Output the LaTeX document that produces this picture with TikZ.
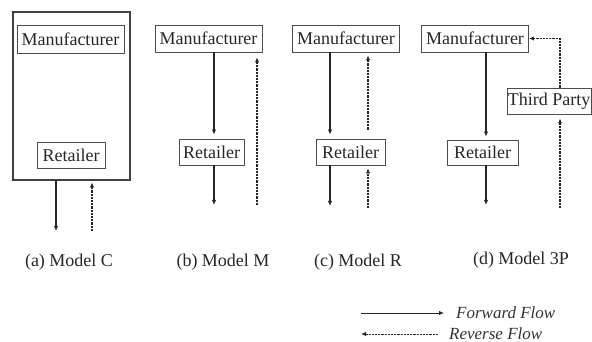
\documentclass[tikz,border=0pt]{standalone}
\usepackage{fontspec}
\setmainfont{Liberation Serif}
\usetikzlibrary{arrows.meta}
\tikzset{
  box/.style={draw=black!70, line width=0.9pt, rectangle, inner sep=0pt,
    font=\fontsize{18}{20}\selectfont, text=black!85},
  outerbox/.style={draw=black!75, line width=2.5pt, rectangle, inner sep=0pt},
  fwd/.style={draw=black!85, line width=1.3pt, -{Latex[length=5pt,width=4.5pt]}},
  rev/.style={draw=black!85, line width=1.4pt, dash pattern=on 2.2pt off 1pt,
    -{Latex[length=5pt,width=4.5pt]}},
  captext/.style={font=\fontsize{18}{20}\selectfont, text=black!85},
  legendtext/.style={font=\fontsize{17}{20}\selectfont\itshape, text=black!80, anchor=west, inner sep=0pt}
}
\begin{document}
\begin{tikzpicture}[x=1pt,y=-1pt]
\useasboundingbox (0,0) rectangle (592,342);
% ---------- (a) Model C
\node[outerbox, minimum width=117pt, minimum height=168pt] (aC) at (71.5,96) {};
\node[box, minimum width=107pt, minimum height=28pt] (aM) at (70.5,39) {Manufacturer};
\node[box, minimum width=68pt, minimum height=26pt] (aR) at (71,155) {Retailer};
\coordinate (aF) at (56,231);
\coordinate (aB) at (92,231);
\draw[fwd] (aC.south -| aF) -- (aF);
\draw[rev, shorten >=1.2pt] (aB) -- (aC.south -| aB);
% ---------- (b) Model M
\node[box, minimum width=107pt, minimum height=27pt] (bM) at (208.5,38.5) {Manufacturer};
\node[box, minimum width=65pt, minimum height=26pt] (bR) at (211.5,152) {Retailer};
\coordinate (bF) at (214,205);
\coordinate (bB) at (257,205);
\draw[fwd, shorten >=4pt] (bM.south -| bF) -- (bR.north -| bF);
\draw[fwd] (bR.south -| bF) -- (bF);
\draw[rev, shorten >=5pt] (bB) -- (bM.south -| bB);
% ---------- (c) Model R
\node[box, minimum width=107pt, minimum height=27pt] (cM) at (346,38.5) {Manufacturer};
\node[box, minimum width=69pt, minimum height=26pt] (cR) at (350.5,152) {Retailer};
\coordinate (cF) at (330,206);
\coordinate (cB) at (368,208);
\draw[fwd, shorten >=4pt] (cM.south -| cF) -- (cR.north -| cF);
\draw[fwd] (cR.south -| cF) -- (cF);
\draw[rev, shorten <=9pt, shorten >=3pt] (cR.north -| cB) -- (cM.south -| cB);
\draw[rev, shorten >=3pt] (cB) -- (cR.south -| cB);
% ---------- (d) Model 3P
\node[box, minimum width=107pt, minimum height=27pt] (dM) at (475,38.5) {Manufacturer};
\node[box, minimum width=71pt, minimum height=25pt] (dR) at (482.5,152.5) {Retailer};
\node[box, minimum width=84pt, minimum height=26pt] (dT) at (549,101) {Third Party};
\coordinate (dF) at (486,205);
\coordinate (dB) at (560,208);
\draw[fwd, shorten >=3pt] (dM.south -| dF) -- (dR.north -| dF);
\draw[fwd] (dR.south -| dF) -- (dF);
\draw[rev, shorten >=4pt] (dB) -- (dT.south -| dB);
\draw[rev] (dT.north -| dB) |- (dM.east);
% ---------- captions
\node[captext] (la) at (69,262) {(a) Model C};
\node[captext] (lb) at (223,262) {(b) Model M};
\node[captext] (lc) at (358,262) {(c) Model R};
\node[captext] (ld) at (521,260) {(d) Model 3P};
% ---------- legend
\node[legendtext] (lfT) at (456,313) {Forward Flow};
\node[legendtext] (lrT) at (449,334) {Reverse Flow};
\coordinate (lf) at (361,313);
\coordinate (lr) at (361,334);
\draw[fwd, line width=1pt, shorten >=12pt] (lf) -- (lfT.west);
\draw[rev, line width=1pt, shorten <=11pt] (lrT.west) -- (lr);
\end{tikzpicture}
\end{document}
